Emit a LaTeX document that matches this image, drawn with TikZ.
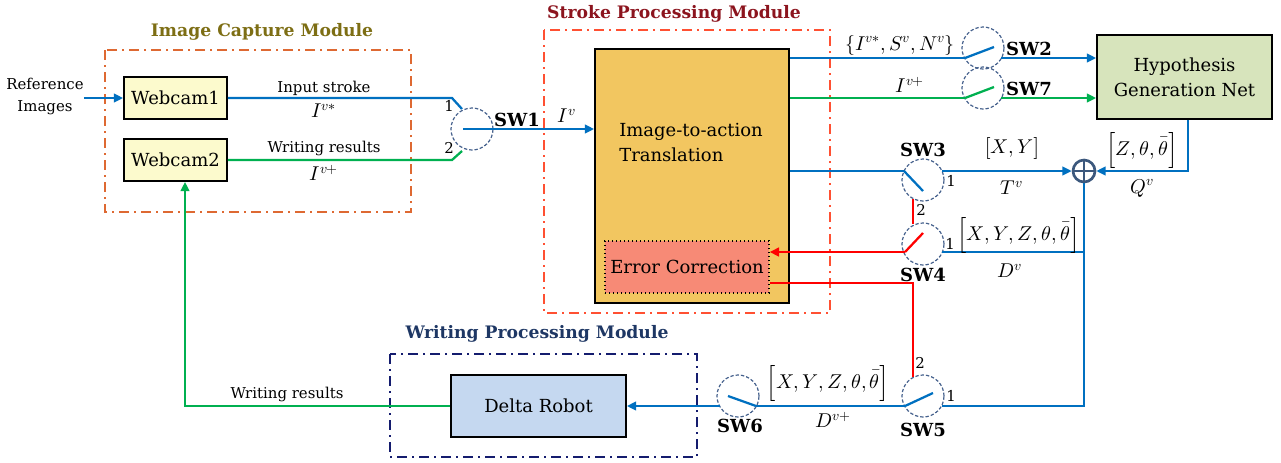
\documentclass[tikz,border=0pt]{standalone}
\usepackage{fontspec}
\setmainfont{DejaVu Serif}
\usepackage{unicode-math}
\setmathfont{Latin Modern Math}
\usetikzlibrary{arrows.meta,calc}

\definecolor{lblue}{RGB}{0,112,192}
\definecolor{lgreen}{RGB}{0,176,80}
\definecolor{lred}{RGB}{255,0,0}
\definecolor{swc}{RGB}{68,96,140}
\definecolor{pluscol}{RGB}{60,88,125}
\definecolor{icmframe}{RGB}{222,105,50}
\definecolor{spmframe}{RGB}{255,80,50}
\definecolor{wpmframe}{RGB}{20,28,110}
\definecolor{icmtitle}{RGB}{125,110,20}
\definecolor{spmtitle}{RGB}{140,20,30}
\definecolor{wpmtitle}{RGB}{30,55,100}
\definecolor{camfill}{RGB}{252,250,205}
\definecolor{imgfill}{RGB}{242,198,96}
\definecolor{errfill}{RGB}{247,138,118}
\definecolor{hypfill}{RGB}{215,228,188}
\definecolor{robfill}{RGB}{197,216,240}

\newcommand\fBody{\fontsize{13.5}{18.75}\selectfont}
\newcommand\fSmall{\fontsize{11.2}{16.5}\selectfont}
\newcommand\fSw{\bfseries\fontsize{13.5}{15}\selectfont}
\newcommand\fTitle{\bfseries\fontsize{12.9}{15}\selectfont}
\newcommand\fMath{\fontsize{15}{17}\selectfont}

\tikzset{
  wire/.style={line width=1.7pt, line cap=butt, line join=miter},
  bl/.style={wire, draw=lblue},
  gr/.style={wire, draw=lgreen},
  rd/.style={wire, draw=lred},
  tip/.style={-{Triangle[length=7pt,width=6.5pt]}},
  frame/.style={line width=1.5pt, dash pattern=on 7.5pt off 3.75pt on 1.5pt off 3.75pt},
  block/.style={draw=black, line width=1.3pt, inner sep=0pt, align=center, font=\fBody},
  switch/.style={circle, draw=swc, line width=0.9pt, dash pattern=on 2.5pt off 1.5pt,
    minimum size=31.5pt, inner sep=0pt},
  swlabel/.style={font=\fSw, inner sep=0pt},
  small/.style={font=\fSmall, inner sep=0pt, align=center},
  mlabel/.style={font=\fMath, inner sep=0pt},
  title/.style={font=\fTitle, inner sep=0pt},
}

\begin{document}
\begin{tikzpicture}[x=0.75pt, y=-0.75pt]
\useasboundingbox (0,0) rectangle (1281,462);

% module frames and titles
\draw[frame, draw=icmframe] (105,50) rectangle (411,212);
\draw[frame, draw=spmframe] (544,30) rectangle (830,313);
\draw[frame, draw=wpmframe] (390,354) rectangle (697,457);
\node[title, text=icmtitle] (t-icm) at (262,32) {Image Capture Module};
\node[title, text=spmtitle] (t-spm) at (674,14) {Stroke Processing Module};
\node[title, text=wpmtitle] (t-wpm) at (537,334) {Writing Processing Module};

% blocks
\node[block, fill=camfill, minimum width=77.25pt, minimum height=31.5pt] (w1) at (175.5,98) {Webcam1};
\node[block, fill=camfill, minimum width=77.25pt, minimum height=31.5pt] (w2) at (175.5,160) {Webcam2};
\node[block, fill=imgfill, minimum width=145.5pt, minimum height=190.5pt] (img) at (692,176) {};
\node[font=\fBody, inner sep=0pt, anchor=west, align=left] (imgtxt) at (619,142.5) {Image-to-action\\Translation};
\node[block, fill=errfill, line width=1pt, dotted, minimum width=123pt, minimum height=39pt] (err) at (687,267) {Error Correction};
\node[block, fill=hypfill, minimum width=131.25pt, minimum height=63pt] (hyp) at (1184.5,77) {Hypothesis\\Generation Net};
\node[block, fill=robfill, minimum width=131.25pt, minimum height=46.5pt] (rob) at (538.5,406) {Delta Robot};

% switches and summing junction
\node[switch] (sw1) at (472,129) {};
\node[switch] (sw2) at (983,48) {};
\node[switch] (sw7) at (983,88) {};
\node[switch] (sw3) at (923,180) {};
\node[switch] (sw4) at (923,244) {};
\node[switch] (sw5) at (923,396) {};
\node[switch] (sw6) at (738,396) {};
\node[circle, draw=pluscol, line width=2pt, minimum size=16.5pt, inner sep=0pt,
  path picture={\draw[pluscol, line width=2pt]
    (path picture bounding box.north) -- (path picture bounding box.south)
    (path picture bounding box.west) -- (path picture bounding box.east);}] (plus) at (1084,171) {};

% contact points of the switches
\coordinate (in1) at (452,98);
\coordinate (in1e) at (462,109);
\coordinate (in2) at (452,160);
\coordinate (in2e) at (462,151);
\coordinate (sw1o) at ($(sw1.center)+(-9,0)$);
\coordinate (sw2a) at ($(sw2.center)+(-18,10)$);
\coordinate (sw2b) at ($(sw2.center)+(11,-1)$);
\coordinate (sw2c) at ($(sw2.center)+(18,10)$);
\coordinate (sw7a) at ($(sw7.center)+(-18,10)$);
\coordinate (sw7b) at ($(sw7.center)+(11,-1)$);
\coordinate (sw7c) at ($(sw7.center)+(18,10)$);
\coordinate (sw3a) at ($(sw3.center)+(-19,-9)$);
\coordinate (sw3b) at ($(sw3.center)+(0,11)$);
\coordinate (sw3c) at ($(sw3.center)+(19,-9)$);
\coordinate (sw3d) at ($(sw3.center)+(-10,19)$);
\coordinate (sw4u) at ($(sw4.center)+(-10,-20)$);
\coordinate (sw4a) at ($(sw4.center)+(-18,8)$);
\coordinate (sw4b) at ($(sw4.center)+(0,-11)$);
\coordinate (sw4c) at ($(sw4.center)+(19,8)$);
\coordinate (sw5u) at ($(sw5.center)+(-10,-19)$);
\coordinate (sw5a) at ($(sw5.center)+(-18,10)$);
\coordinate (sw5b) at ($(sw5.center)+(10,-3)$);
\coordinate (sw5c) at ($(sw5.center)+(19,10)$);
\coordinate (sw6a) at ($(sw6.center)+(18,10)$);
\coordinate (sw6b) at ($(sw6.center)+(-10,0)$);
\coordinate (sw6c) at ($(sw6.center)+(-18,10)$);
\coordinate (eout) at ($(err.east)+(0,16)$);
\coordinate (hq) at ($(hyp.south)+(3.5,0)$);
\coordinate (fb) at ($(w2.south)+(9.5,0)$);

% left side
\node[small] (ref) at (45,96) {Reference\\Images};
\draw[bl, tip] (ref.east |- w1.west) -- (w1.west);
\draw[bl] (w1.east) -- (in1) -- (in1e);
\draw[gr] (w2.east) -- (in2) -- (in2e);
\draw[bl, tip] (sw1o) -- (sw1o -| img.west);

% outputs of the translation block
\draw[bl] (sw2a -| img.east) -- (sw2a);
\draw[bl] (sw2a) -- (sw2b);
\draw[bl, tip] (sw2c) -- (sw2c -| hyp.west);
\draw[gr] (sw7a -| img.east) -- (sw7a);
\draw[gr] (sw7a) -- (sw7b);
\draw[gr, tip] (sw7c) -- (sw7c -| hyp.west);
\draw[bl] (sw3a -| img.east) -- (sw3a);
\draw[bl] (sw3a) -- (sw3b);
\draw[bl, tip] (sw3c) -- (plus.west);
\draw[bl, tip] (hq) |- (plus.east);

% correction loop
\draw[rd] (sw3d) -- (sw4u);
\draw[rd] (sw4b) -- (sw4a);
\draw[rd, tip] (sw4a) -- (sw4a -| err.east);
\draw[bl] (sw4c) -- (plus |- sw4c);
\draw[bl] (plus.south) |- (sw5c);
\draw[rd] (eout) -| (sw5u);

% writing path
\draw[bl] (sw5a) -- (sw5b);
\draw[bl] (sw5a) -- (sw6a);
\draw[bl] (sw6a) -- (sw6b);
\draw[bl, tip] (sw6c) -- (rob.east |- sw6c);
\draw[gr, tip] (rob.west) -| (fb);

% text labels
\node[small] (l-in) at (324,88) {Input stroke};
\node[small] (l-wr) at (324,148) {Writing results};
\node[small] (l-wr2) at (287,394) {Writing results};
\node[mlabel] (m-ivs) at (324,111) {$I^{v*}$};
\node[mlabel] (m-ivp) at (324,173) {$I^{v+}$};
\node[small] (n1a) at (449,106) {1};
\node[small] (n1b) at (449,148) {2};
\node[swlabel] (s1) at (517,120) {SW1};
\node[mlabel] (m-iv) at (567,116) {$I^{v}$};
\node[mlabel] (m-set) at (900,45) {$\{I^{v*},S^{v},N^{v}\}$};
\node[swlabel] (s2) at (1029,49) {SW2};
\node[mlabel] (m-ivp2) at (910,85) {$I^{v+}$};
\node[swlabel] (s7) at (1029,89) {SW7};
\node[swlabel] (s3) at (923,150) {SW3};
\node[small] (n3) at (951,181) {1};
\node[mlabel] (m-xy) at (1012,148) {$\bigl[X,Y\bigr]$};
\node[mlabel] (m-tv) at (1012,188) {$T^{v}$};
\node[small] (n3b) at (921,210) {2};
\node[small] (n4) at (950,244) {1};
\node[mlabel, anchor=west] (m-dv) at (957,235) {$\Bigl[X,Y,Z,\theta,\bar{\theta}\Bigr]$};
\node[mlabel] (m-dvl) at (1010,271) {$D^{v}$};
\node[swlabel] (s4) at (923,275) {SW4};
\node[mlabel] (m-q) at (1142,150) {$\Bigl[Z,\theta,\bar{\theta}\Bigr]$};
\node[mlabel] (m-qv) at (1142,188) {$Q^{v}$};
\node[small] (n5b) at (920,363) {2};
\node[small] (n5) at (951,396) {1};
\node[swlabel] (s5) at (923,430) {SW5};
\node[swlabel] (s6) at (740,426) {SW6};
\node[mlabel] (m-dp) at (828,383) {$\Bigl[X,Y,Z,\theta,\bar{\theta}\Bigr]$};
\node[mlabel] (m-dpl) at (833,420) {$D^{v+}$};
\end{tikzpicture}
\end{document}
